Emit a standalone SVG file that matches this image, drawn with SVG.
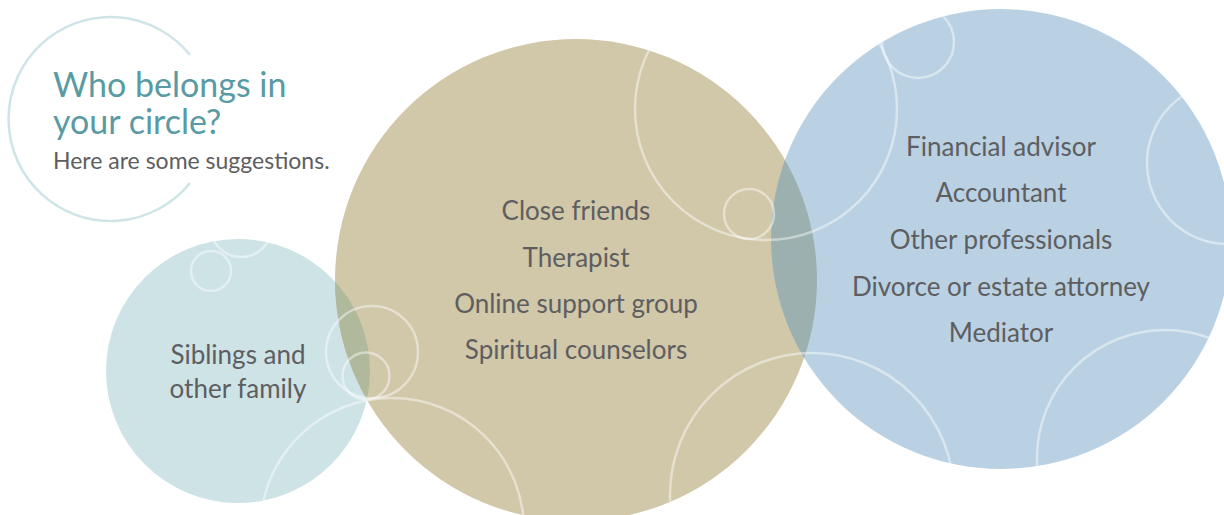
<svg xmlns="http://www.w3.org/2000/svg" width="1224" height="515" viewBox="0 0 1224 515">
  <style>
    .body { font-family: Lato, "Open Sans", "Liberation Sans", sans-serif; font-size: 26px; fill: #5e5e60; text-anchor: middle; }
    .title { font-family: Lato, "Open Sans", "Liberation Sans", sans-serif; font-size: 34px; fill: #5a9ba3; }
    .sub { font-family: Lato, "Open Sans", "Liberation Sans", sans-serif; font-size: 23px; fill: #5e5e60; }
    .deco { fill: none; stroke: #ffffff; stroke-opacity: 0.45; stroke-width: 2.5; }
  </style>
  <defs>
    <clipPath id="clipTeal"><circle cx="238" cy="371" r="132"/></clipPath>
    <clipPath id="clipBlue"><circle cx="1001" cy="239" r="230"/></clipPath>
    <clipPath id="clipAll">
      <circle cx="238" cy="371" r="132"/>
      <circle cx="576" cy="280" r="241"/>
      <circle cx="1001" cy="239" r="230"/>
    </clipPath>
  </defs>
  <rect width="1224" height="515" fill="#ffffff"/>

  <g id="title">
    <path d="M190,55 A102,102 0 1 0 190,183" fill="none" stroke="#cfe4e7" stroke-width="2.5"/>
    <text class="title" x="53" y="97">Who belongs in</text>
    <text class="title" x="53" y="134">your circle?</text>
    <text class="sub" x="53" y="169">Here are some suggestions.</text>
  </g>

  <g id="family">
    <circle cx="238" cy="371" r="132" fill="#cde3e6"/>
  </g>
  <g id="friends">
    <circle cx="576" cy="280" r="241" fill="#d1c7a9"/>
    <circle cx="576" cy="280" r="241" fill="#b0b99c" clip-path="url(#clipTeal)"/>
  </g>
  <g id="professionals">
    <circle cx="1001" cy="239" r="230" fill="#b9d1e3"/>
    <circle cx="576" cy="280" r="241" fill="#9cb0b0" clip-path="url(#clipBlue)"/>
  </g>

  <g id="decorations" clip-path="url(#clipAll)">
    <circle class="deco" cx="211" cy="271" r="20"/>
    <circle class="deco" cx="241" cy="226" r="31"/>
    <circle class="deco" cx="372" cy="352" r="46"/>
    <circle class="deco" cx="366" cy="376" r="23.5"/>
    <circle class="deco" cx="392" cy="530" r="132"/>
    <circle class="deco" cx="766" cy="109" r="131"/>
    <circle class="deco" cx="749" cy="214" r="25"/>
    <circle class="deco" cx="918" cy="42" r="36"/>
    <circle class="deco" cx="1228" cy="163" r="81"/>
    <circle class="deco" cx="1165" cy="458" r="128"/>
    <circle class="deco" cx="812" cy="495" r="142"/>
  </g>

  <g id="labels">
    <text class="body" x="238" y="364">Siblings and</text>
    <text class="body" x="238" y="398">other family</text>
    <text class="body" x="576" y="220">Close friends</text>
    <text class="body" x="576" y="267">Therapist</text>
    <text class="body" x="576" y="313">Online support group</text>
    <text class="body" x="576" y="359">Spiritual counselors</text>
    <text class="body" x="1001" y="156">Financial advisor</text>
    <text class="body" x="1001" y="202">Accountant</text>
    <text class="body" x="1001" y="249">Other professionals</text>
    <text class="body" x="1001" y="296">Divorce or estate attorney</text>
    <text class="body" x="1001" y="342">Mediator</text>
  </g>
</svg>
